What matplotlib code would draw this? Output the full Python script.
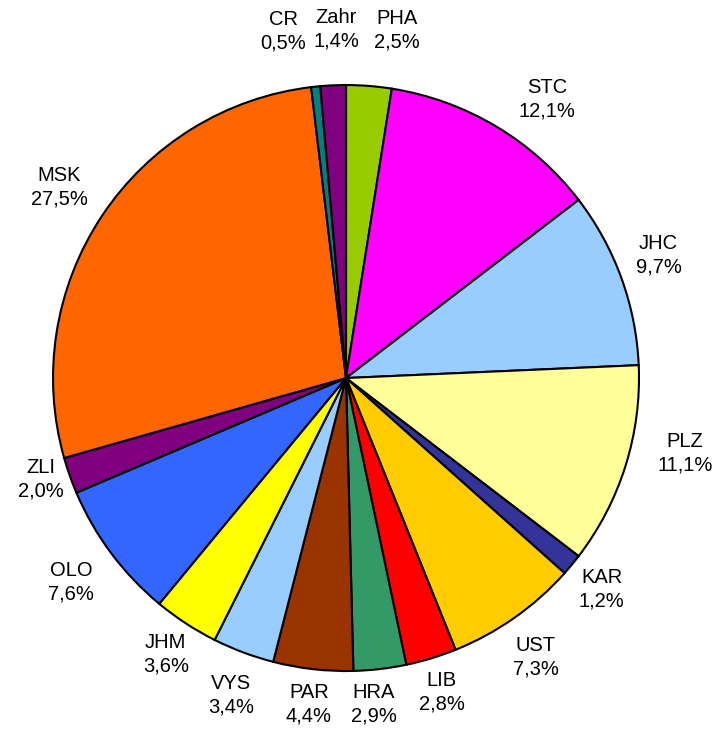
import numpy as np
import matplotlib
matplotlib.use("Agg")
import matplotlib.pyplot as plt

# Regions, clockwise from 12 o'clock
regions = ['PHA', 'STC', 'JHC', 'PLZ', 'KAR', 'UST', 'LIB', 'HRA',
           'PAR', 'VYS', 'JHM', 'OLO', 'ZLI', 'MSK', 'CR', 'Zahr']
shares = [2.5, 12.1, 9.7, 11.1, 1.2, 7.3, 2.8, 2.9,
          4.4, 3.4, 3.6, 7.6, 2.0, 27.5, 0.5, 1.4]
colors = ['#99CC00', '#FF00FF', '#99CCFF', '#FFFF99', '#333399', '#FFCC00',
          '#FF0000', '#339966', '#993300', '#99CCFF', '#FFFF00', '#3366FF',
          '#800080', '#FF6600', '#008080', '#800080']

# small nudges for labels placed the way the original spreadsheet did (radius units)
nudge = {'PHA': (0.08, 0.0), 'CR': (-0.09, 0.0), 'Zahr': (0.02, 0.0),
         'STC': (0.08, -0.065), 'PLZ': (0.065, 0.085), 'JHC': (-0.03, 0.02),
         'HRA': (-0.035, 0.0), 'ZLI': (0.035, 0.035), 'OLO': (-0.03, -0.02),
         'UST': (0.0, -0.03), 'VYS': (0.0, -0.03)}

plt.rcParams['font.family'] = ['Liberation Sans', 'DejaVu Sans']

fig = plt.figure(figsize=(7.14, 7.30), dpi=100)
ax = fig.add_axes([0, 0, 1, 1])

wedges, _ = ax.pie(shares, colors=colors, startangle=90, counterclock=False,
                   radius=1.0,
                   wedgeprops=dict(edgecolor='black', linewidth=1.5))

for w, name, val in zip(wedges, regions, shares):
    ang = np.deg2rad((w.theta1 + w.theta2) / 2)
    dx, dy = np.cos(ang), np.sin(ang)
    # push label a bit further out at the top than at the bottom
    dist = 1.155 + 0.035 * dy
    x, y = dist * dx, dist * dy
    nx, ny = nudge.get(name, (0, 0))
    txt = f"{name}\n{val:.1f}%".replace('.', ',')
    ax.text(x + nx, y + ny, txt, ha='center', va='center', fontsize=14.5,
            linespacing=1.3)

ax.set_xlim(-1.181, 1.256)
ax.set_ylim(-1.201, 1.290)
ax.set_aspect('equal')
ax.axis('off')

fig.savefig('out.png', dpi=100)
